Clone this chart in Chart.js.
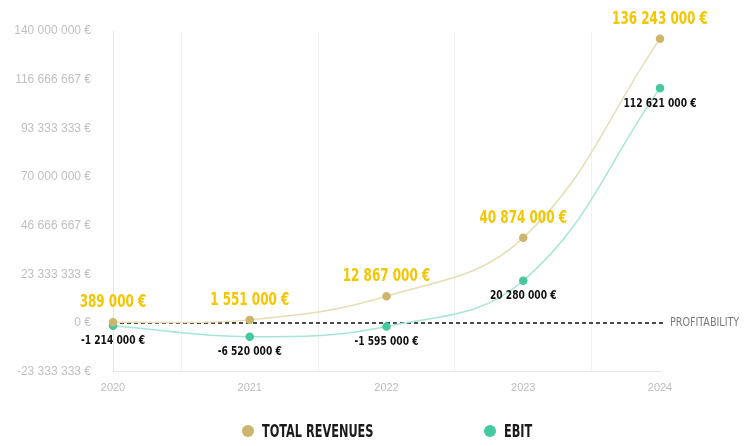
<html>
	<head>
		<script src="https://cdn.jsdelivr.net/npm/chart.js"></script>
		<style>
			body {
				margin: 0;
				background: #fff;
			}
			.wrap {
				position: relative;
				width: 744px;
				height: 446px;
			}
			.legend {
				position: absolute;
				left: 0;
				top: 421px;
				width: 744px;
				display: flex;
				padding-left: 242px;
				box-sizing: border-box;
				font-family: 'DejaVu Sans Condensed', 'DejaVu Sans', sans-serif;
				font-weight: bold;
				font-size: 17px;
				color: #1a1a1a;
				white-space: nowrap;
			}
			.legend .item:first-child {
				width: 242px;
			}
			.legend span.dot {
				display: inline-block;
				width: 12px;
				height: 12px;
				border-radius: 50%;
				margin-right: 8px;
				vertical-align: 0px;
			}
			.legend span.txt {
				display: inline-block;
				transform: scaleX(0.74);
				transform-origin: left center;
			}
		</style>
	</head>
	<body>
		<div class="wrap">
			<canvas id="finChart"></canvas>
			<div class="legend" id="legend"></div>
		</div>

		<script>
			const years = ['2020', '2021', '2022', '2023', '2024'];
			const revenues = [389000, 1551000, 12867000, 40874000, 136243000];
			const ebit = [-1214000, -6520000, -1595000, 20280000, 112621000];
			const yTicks = [-23333333, 0, 23333333, 46666667, 70000000, 93333333, 116666667, 140000000];
			const profitLabel = 'PROFITABILITY';

			const narrow = "'DejaVu Sans Condensed', 'DejaVu Sans', sans-serif";

			function euro(v) {
				return Math.round(v).toString().replace(/\B(?=(\d{3})+(?!\d))/g, ' ') + ' €';
			}

			// squeeze text horizontally to get a narrow display look
			function squeezedText(ctx, text, x, y, sx) {
				ctx.save();
				ctx.translate(x, y);
				ctx.scale(sx, 1);
				ctx.fillText(text, 0, 0);
				ctx.restore();
			}

			// value labels above revenue points, below EBIT points
			const valueLabels = {
				id: 'valueLabels',
				afterDatasetsDraw(chart) {
					const ctx = chart.ctx;
					ctx.save();
					ctx.textAlign = 'center';
					ctx.textBaseline = 'middle';
					chart.getDatasetMeta(0).data.forEach((pt, i) => {
						ctx.font = 'bold 18px ' + narrow;
						ctx.fillStyle = '#f3c600';
						squeezedText(ctx, euro(revenues[i]), pt.x, pt.y - 20, 0.74);
					});
					chart.getDatasetMeta(1).data.forEach((pt, i) => {
						ctx.font = 'bold 13px ' + narrow;
						ctx.fillStyle = '#111';
						squeezedText(ctx, euro(ebit[i]), pt.x, pt.y + 15, 0.78);
					});
					ctx.restore();
				}
			};

			// dashed zero line with its caption on the right
			const zeroLine = {
				id: 'zeroLine',
				beforeDatasetsDraw(chart) {
					const ctx = chart.ctx;
					const y = chart.scales.y.getPixelForValue(0);
					const area = chart.chartArea;
					ctx.save();
					ctx.strokeStyle = '#4a4a4a';
					ctx.lineWidth = 2;
					ctx.setLineDash([4, 3]);
					ctx.beginPath();
					ctx.moveTo(area.left, y);
					ctx.lineTo(area.right + 5, y);
					ctx.stroke();
					ctx.setLineDash([]);
					ctx.font = '13px ' + narrow;
					ctx.fillStyle = '#7a7a7a';
					ctx.textAlign = 'left';
					ctx.textBaseline = 'middle';
					squeezedText(ctx, profitLabel, area.right + 10, y, 0.82);
					ctx.restore();
				}
			};

			const chart = new Chart(document.getElementById('finChart'), {
				type: 'line',
				data: {
					labels: years,
					datasets: [{
						label: 'TOTAL REVENUES',
						data: revenues,
						borderColor: '#e8ddb5',
						backgroundColor: '#cdb56e',
						pointBackgroundColor: '#cdb56e',
						pointBorderColor: '#cdb56e',
						borderWidth: 1.5,
						pointRadius: 3.5,
						tension: 0.4
					}, {
						label: 'EBIT',
						data: ebit,
						borderColor: '#a6e6d6',
						backgroundColor: '#44c9a0',
						pointBackgroundColor: '#44c9a0',
						pointBorderColor: '#44c9a0',
						borderWidth: 1.5,
						pointRadius: 3.5,
						tension: 0.4
					}]
				},
				options: {
					responsive: true,
					maintainAspectRatio: false,
					animation: false,
					events: [],
					layout: {
						padding: { top: 31, right: 84, bottom: 41, left: 0 }
					},
					plugins: {
						legend: { display: false },
						tooltip: { enabled: false }
					},
					scales: {
						x: {
							offset: false,
							grid: { display: true, offset: true, color: '#f1f1f1', drawTicks: false },
							border: { display: true, color: '#e6e6e6' },
							ticks: { color: '#bdbdbd', font: { family: 'Liberation Sans', size: 11 }, padding: 10 }
						},
						y: {
							min: yTicks[0],
							max: yTicks[yTicks.length - 1],
							grid: { display: false },
							border: { display: true, color: '#e6e6e6' },
							afterBuildTicks: scale => {
								scale.ticks = yTicks.map(v => ({ value: v }));
							},
							afterFit: scale => {
								scale.width = 113;
							},
							ticks: {
								color: '#c0c0c0',
								font: { family: 'Liberation Sans', size: 12 },
								padding: 14,
								callback: v => euro(v)
							}
						}
					}
				},
				plugins: [zeroLine, valueLabels]
			});

			// legend built from the datasets
			const legend = document.getElementById('legend');
			chart.data.datasets.forEach(ds => {
				const item = document.createElement('div');
				item.className = 'item';
				const dot = document.createElement('span');
				dot.className = 'dot';
				dot.style.background = ds.pointBackgroundColor;
				const txt = document.createElement('span');
				txt.className = 'txt';
				txt.textContent = ds.label;
				item.appendChild(dot);
				item.appendChild(txt);
				legend.appendChild(item);
			});
		</script>
	</body>
</html>
